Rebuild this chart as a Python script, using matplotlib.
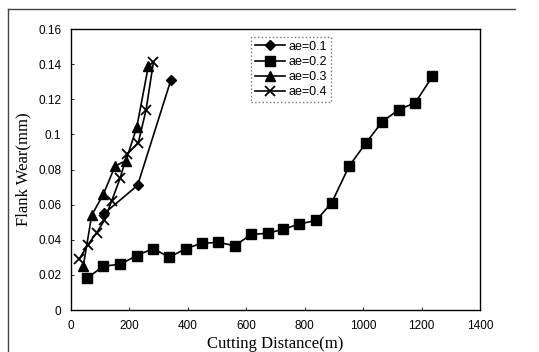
import matplotlib.pyplot as plt
from matplotlib.ticker import FuncFormatter
from matplotlib.lines import Line2D

# ae = 0.1 (diamonds)
x_01 = [114, 228, 342]
y_01 = [0.055, 0.071, 0.131]

# ae = 0.2 (squares)
x_02 = [54, 111, 168, 225, 282, 336, 394, 447, 504, 561, 616, 673, 727,
        782, 839, 892, 952, 1009, 1064, 1121, 1178, 1237]
y_02 = [0.018, 0.025, 0.026, 0.031, 0.035, 0.030, 0.035, 0.038, 0.0385,
        0.0366, 0.043, 0.0437, 0.046, 0.049, 0.051, 0.061, 0.082, 0.095,
        0.107, 0.114, 0.118, 0.133]

# ae = 0.3 (triangles)
x_03 = [42, 71, 111, 151, 188, 225, 265]
y_03 = [0.025, 0.054, 0.066, 0.082, 0.085, 0.104, 0.139]

# ae = 0.4 (crosses)
x_04 = [28, 57, 88, 114, 139, 168, 193, 230, 257, 282]
y_04 = [0.029, 0.037, 0.044, 0.051, 0.062, 0.075, 0.089, 0.095, 0.114, 0.141]

labels = ['ae=0.1', 'ae=0.2', 'ae=0.3', 'ae=0.4']
xticks = [0, 200, 400, 600, 800, 1000, 1200, 1400]
yticks = [0, 0.02, 0.04, 0.06, 0.08, 0.10, 0.12, 0.14, 0.16]

fig = plt.figure(figsize=(5.39, 3.52), dpi=100)
ax = fig.add_axes([0.1317, 0.1193, 0.759, 0.7983])

kw = dict(color='black', lw=1.2, mec='black', mfc='black')
ax.plot(x_01, y_01, marker='D', ms=5.5, label=labels[0], **kw)
ax.plot(x_02, y_02, marker='s', ms=6.5, label=labels[1], **kw)
ax.plot(x_03, y_03, marker='^', ms=6.5, label=labels[2], **kw)
ax.plot(x_04, y_04, marker='x', ms=7, mew=1.3, label=labels[3], **kw)

ax.set_xlim(0, 1400)
ax.set_ylim(0, 0.16)
ax.set_xticks(xticks)
ax.set_yticks(yticks)
ax.yaxis.set_major_formatter(FuncFormatter(lambda v, p: '%g' % round(v, 3)))
ax.tick_params(direction='in', length=2, width=0.6, labelsize=8.5, pad=7)
for lbl in ax.get_xticklabels() + ax.get_yticklabels():
    lbl.set_family('Liberation Sans')
for s in ax.spines.values():
    s.set_linewidth(1.0)

ax.set_xlabel('Cutting Distance(m)', family='Liberation Serif', fontsize=12, labelpad=3)
ax.set_ylabel('Flank Wear(mm)', family='Liberation Serif', fontsize=12, labelpad=5)

leg = ax.legend(loc='upper left', bbox_to_anchor=(251 / 539, 1 - 37 / 352),
                bbox_transform=fig.transFigure, frameon=True,
                fancybox=False, edgecolor='#555555', handlelength=2.4,
                borderpad=0.3, labelspacing=0.25, handletextpad=0.3,
                borderaxespad=0, prop={'family': 'Liberation Sans', 'size': 9})
leg.get_frame().set_linewidth(1.0)
leg.get_frame().set_linestyle(':')

# outer frame of the scanned figure
fig.add_artist(Line2D([8 / 539, 515 / 539], [1 - 9 / 352, 1 - 9 / 352],
                      transform=fig.transFigure, color='#444444', lw=1.0))
fig.add_artist(Line2D([8 / 539, 8 / 539], [1 - 9 / 352, 0],
                      transform=fig.transFigure, color='#444444', lw=1.0))

fig.savefig('out.png', dpi=100)
